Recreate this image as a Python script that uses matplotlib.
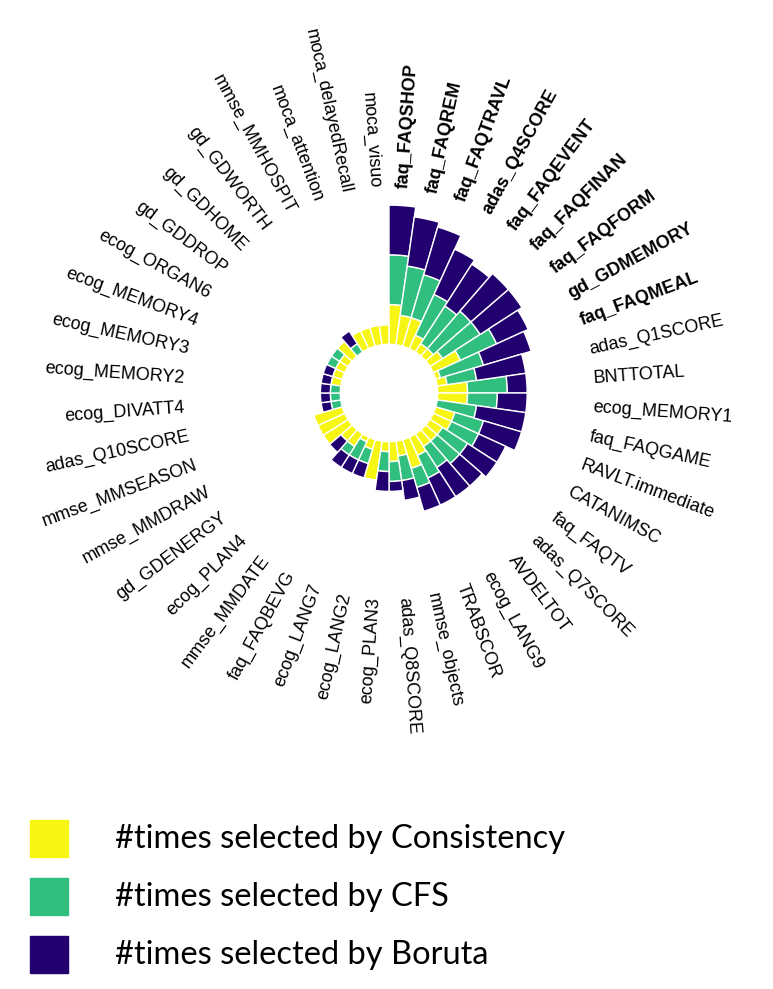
import numpy as np
import matplotlib
matplotlib.use("Agg")
import matplotlib.pyplot as plt
from matplotlib.patches import Rectangle

plt.rcParams['font.family'] = ['Liberation Sans', 'DejaVu Sans']

# features, clockwise from 12 o'clock
features = ["faq_FAQSHOP", "faq_FAQREM", "faq_FAQTRAVL", "adas_Q4SCORE", "faq_FAQEVENT",
            "faq_FAQFINAN", "faq_FAQFORM", "gd_GDMEMORY", "faq_FAQMEAL", "adas_Q1SCORE",
            "BNTTOTAL", "ecog_MEMORY1", "faq_FAQGAME", "RAVLT.immediate", "CATANIMSC",
            "faq_FAQTV", "adas_Q7SCORE", "AVDELTOT", "ecog_LANG9", "TRABSCOR",
            "mmse_objects", "adas_Q8SCORE", "ecog_PLAN3", "ecog_LANG2", "ecog_LANG7",
            "faq_FAQBEVG", "mmse_MMDATE", "ecog_PLAN4", "gd_GDENERGY", "mmse_MMDRAW",
            "mmse_MMSEASON", "adas_Q10SCORE", "ecog_DIVATT4", "ecog_MEMORY2", "ecog_MEMORY3",
            "ecog_MEMORY4", "ecog_ORGAN6", "gd_GDDROP", "gd_GDHOME", "gd_GDWORTH",
            "mmse_MMHOSPIT", "moca_attention", "moca_delayedRecall", "moca_visuo"]
n_bold = 9

consistency = [8, 6, 6, 3, 2, 2, 3, 6, 1, 2, 6, 6, 0, 4, 4, 3, 3, 3, 4, 6, 3, 4,
               2, 8, 2, 1, 3, 3, 6, 6, 6, 0, 0, 0, 2, 2, 2, 2, 4, 0, 4, 4, 4, 4]
cfs = [10, 10, 9, 9, 9, 10, 9, 8, 9, 6, 8, 6, 8, 6, 6, 6, 6, 5, 5, 4, 5, 4,
       4, 0, 3, 4, 2, 0, 0, 0, 0, 2, 2, 2, 0, 0, 2, 2, 0, 2, 0, 0, 0, 0]
boruta = [10, 10, 10, 10, 10, 10, 10, 7, 10, 10, 4, 6, 10, 8, 6, 7, 6, 7, 6, 5, 4, 2,
          4, 0, 3, 3, 3, 3, 0, 0, 0, 2, 2, 2, 2, 2, 0, 0, 0, 3, 0, 0, 0, 0]

legend_labels = ["#times selected by Consistency", "#times selected by CFS",
                 "#times selected by Boruta"]
colors = ["#f7f514", "#31bf80", "#230070"]

base = 9.8
rmax = 46.0

fig = plt.figure(figsize=(7.73, 9.89), dpi=100)
W, H = 773, 989
cx, cy, rpx = 389, 393, rmax * 4.97
ax = fig.add_axes([(cx - rpx) / W, (H - cy - rpx) / H, 2 * rpx / W, 2 * rpx / H], polar=True)
ax.set_theta_zero_location('N')
ax.set_theta_direction(-1)

n = len(features)
width = 2 * np.pi / n
theta = np.arange(n) * width

c = np.array(consistency)
g = np.array(cfs)
b = np.array(boruta)
ax.bar(theta, c, width=width, bottom=base, align='edge', color=colors[0], edgecolor='white', linewidth=1)
ax.bar(theta, g, width=width, bottom=base + c, align='edge', color=colors[1], edgecolor='white', linewidth=1)
ax.bar(theta, b, width=width, bottom=base + c + g, align='edge', color=colors[2], edgecolor='white', linewidth=1)

ax.set_ylim(0, rmax)
ax.axis('off')

r_lab = 41.2
for i, name in enumerate(features):
    mid = theta[i] + width / 2
    deg = np.degrees(mid)
    if deg < 180:
        rot, ha = 90 - deg, 'left'
    else:
        rot, ha = 270 - deg, 'right'
    ax.text(mid, r_lab, name, rotation=rot, rotation_mode='anchor', ha=ha, va='center',
            fontsize=13, fontweight='bold' if i < n_bold else 'normal', clip_on=False)

# legend
ys = [820, 878, 936]
for y, col, lab in zip(ys, colors, legend_labels):
    fig.add_artist(Rectangle((30 / W, 1 - (y + 37) / H), 38 / W, 37 / H,
                             transform=fig.transFigure, color=col))
    fig.text(115 / W, 1 - (y + 19) / H, lab, fontsize=23.5, family='Lato', va='center', ha='left')

fig.savefig("out.png", dpi=100)
